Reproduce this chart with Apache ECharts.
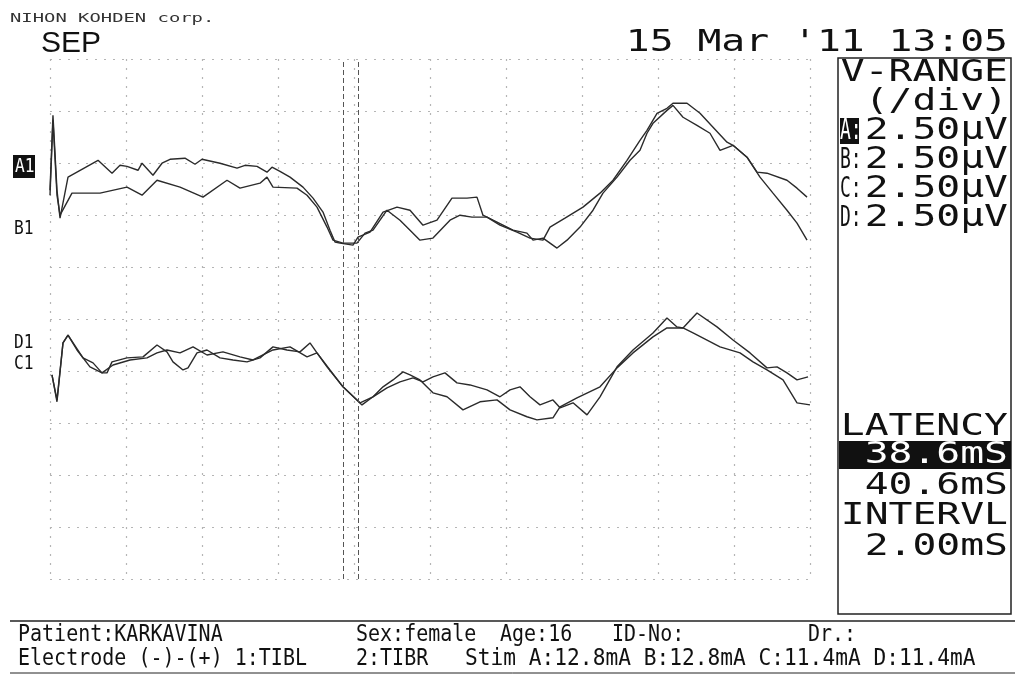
<!DOCTYPE html>
<html><head><meta charset="utf-8">
<script src="https://cdn.jsdelivr.net/npm/echarts@6/dist/echarts.min.js"></script>
<style>html,body{margin:0;padding:0;background:#fff}#c{width:1015px;height:675px}</style>
</head><body><div id="c"></div>
<script>
// time (ms) and amplitude (μV, screen offset) for each channel
const tA = [0,0.39,0.92,1.32,2.37,6.32,8.16,9.21,10.13,11.58,12.11,13.55,14.74,15.79,17.76,19.08,20.0,22.37,24.61,25.66,27.24,28.55,29.21,30.26,31.58,33.29,34.61,35.92,36.84,37.5,38.16,39.87,40.53,42.11,43.82,45.66,47.37,49.08,50.92,52.89,54.87,56.18,56.97,58.82,60.92,62.76,63.55,64.87,66.71,68.03,69.74,71.45,72.76,74.61,76.32,77.63,78.55,79.34,81.18,81.97,83.29,85.13,86.84,88.16,89.87,91.71,93.03,94.34,96.97,98.29,99.61];
const vA = [6.19,9.79,6.19,4.85,6.82,7.63,7.01,7.39,7.34,7.15,7.49,6.91,7.49,7.68,7.73,7.44,7.68,7.49,7.25,7.39,7.34,7.06,7.30,7.10,6.82,6.34,5.81,5.14,4.27,3.70,3.65,3.55,3.94,4.18,5.14,5.38,5.23,4.51,4.75,5.81,5.81,5.86,4.99,4.66,4.27,4.13,3.79,3.89,3.41,3.79,4.42,5.23,6.05,6.82,7.63,8.11,8.93,9.41,10.03,10.27,9.70,9.31,8.93,8.11,8.35,7.78,7.06,7.01,6.67,6.29,5.86];
const tB = [0,0.39,0.92,1.32,2.89,6.58,10.13,12.11,14.08,17.11,20.13,23.29,25.0,27.63,28.55,29.34,32.5,33.82,35.13,36.45,37.24,38.55,40.39,41.45,42.5,44.34,46.05,47.37,48.68,50.39,52.63,53.95,55.53,57.5,59.21,61.45,63.16,64.87,65.79,67.76,70.13,72.37,74.08,75.92,77.63,78.55,79.87,81.18,81.97,83.82,85.53,87.24,89.08,89.87,91.71,93.42,95.13,96.97,98.29,99.61];
const vB = [5.95,9.55,5.95,4.99,6.05,6.05,6.34,5.95,6.67,6.34,5.86,6.67,6.29,6.53,6.82,6.34,6.29,5.95,5.38,4.42,3.79,3.65,3.65,4.13,4.27,5.23,4.75,4.27,3.79,3.89,4.75,4.99,4.90,4.90,4.51,4.18,3.89,3.79,4.42,4.85,5.38,6.05,6.67,7.63,8.59,9.07,9.89,10.13,10.37,10.37,9.89,9.22,8.50,8.35,7.78,6.82,6.05,5.23,4.61,3.79];
const tC = [0.26,0.92,1.71,2.37,4.34,5.66,6.84,7.5,8.16,10.13,12.24,14.08,15.39,16.18,17.5,18.16,19.34,20.66,22.37,24.08,25.92,27.63,29.34,31.18,32.89,34.21,35.13,36.84,38.55,41.05,42.5,43.82,45.13,46.45,47.37,48.68,50.39,52.24,54.34,56.58,58.82,60.53,62.76,64.08,66.18,67.11,69.34,72.37,74.61,76.71,79.34,81.18,83.29,84.61,86.45,88.16,90.79,92.5,94.34,96.45,98.29,100];
const vC = [-2.69,-3.98,-1.15,-0.77,-1.87,-2.11,-2.59,-2.59,-2.06,-1.87,-1.82,-1.25,-1.58,-2.06,-2.45,-2.35,-1.63,-1.49,-1.87,-1.97,-2.06,-1.87,-1.34,-1.49,-1.58,-1.15,-1.63,-2.45,-3.26,-4.13,-3.74,-3.26,-2.93,-2.54,-2.69,-2.93,-3.55,-3.74,-4.37,-3.98,-3.89,-4.37,-4.70,-4.85,-4.75,-4.22,-3.79,-3.26,-2.35,-1.63,-0.86,-0.43,-0.43,-0.67,-1.01,-1.34,-1.63,-2.06,-2.45,-2.93,-4.03,-4.13];
const tD = [0.26,0.92,1.71,2.37,3.55,5.26,6.84,8.29,10.53,12.76,14.08,15.39,17.11,18.82,20.66,22.76,25.0,26.71,29.34,31.58,33.82,35.13,36.45,38.55,40.79,42.5,44.34,46.05,47.76,49.08,50.39,51.97,53.55,55.26,57.5,59.21,60.53,61.84,63.16,64.47,66.18,67.11,68.82,70.66,72.37,74.61,76.71,79.34,81.18,82.5,83.29,85.13,87.76,89.87,92.11,94.34,95.66,96.97,98.29,99.74];
const vD = [-2.69,-3.89,-1.15,-0.77,-1.49,-2.30,-2.59,-2.21,-1.97,-1.87,-1.63,-1.49,-1.63,-1.34,-1.73,-1.58,-1.82,-1.97,-1.49,-1.34,-1.82,-1.63,-2.30,-3.26,-4.03,-3.74,-3.31,-3.02,-2.83,-3.02,-2.78,-2.59,-3.07,-3.17,-3.41,-3.74,-3.41,-3.26,-3.74,-4.13,-3.89,-4.27,-4.03,-4.61,-3.74,-2.30,-1.49,-0.67,0.05,-0.38,-0.43,0.29,-0.38,-1.01,-1.63,-2.35,-2.30,-2.59,-2.93,-2.78];
const cursorTimes = [38.6, 40.6];
const channelNames = ['A', 'B', 'C', 'D'];
const vRange = ['2.50μV', '2.50μV', '2.50μV', '2.50μV'];
const latencies = ['38.6mS', '40.6mS'];
const intervalText = '2.00mS';

const zip = (t, v) => t.map((x, i) => [x, v[i]]);
const traceColor = '#2b2b2b';
const mkSeries = (name, t, v) => ({
  name, type: 'line', data: zip(t, v), showSymbol: false, symbol: 'none',
  lineStyle: { color: traceColor, width: 1.4 }, animation: false, silent: true
});

const mono = '"DejaVu Sans Mono", monospace';
const big = 'normal 31px ' + mono;
const panelX = 1008;
const ptxt = (text, y, fill) => ({
  type: 'text', x: panelX, y, scaleX: 1.28,
  style: { text, font: big, fill: fill || '#111', align: 'right', verticalAlign: 'middle' }
});

const graphics = [
  { type: 'text', x: 10, y: 19, scaleX: 1.45, style: { text: 'NIHON KOHDEN corp.', font: 'normal 13px ' + mono, fill: '#333', verticalAlign: 'middle' } },
  { type: 'text', x: 41, y: 44, style: { text: 'SEP', font: 'normal 30px "Liberation Sans", Arial, sans-serif', fill: '#111', verticalAlign: 'middle' } },
  ptxt("15 Mar '11 13:05", 43),
  { type: 'rect', shape: { x: 838, y: 58, width: 173, height: 556 }, style: { fill: 'none', stroke: '#222', lineWidth: 1.5 } },
  ptxt('V-RANGE', 73),
  ptxt('(/div)', 102),
  { type: 'rect', shape: { x: 840, y: 118, width: 19, height: 26 }, style: { fill: '#111' } },
];
channelNames.forEach((c, i) => {
  const y = 131 + i * 29;
  graphics.push({ type: 'text', x: 840, y, scaleX: 0.62, style: { text: c + ':', font: 'normal 29px ' + mono, fill: i === 0 ? '#fff' : '#111', verticalAlign: 'middle' } });
  graphics.push(ptxt(vRange[i], y));
});
graphics.push(
  ptxt('LATENCY', 427),
  { type: 'rect', shape: { x: 839, y: 441, width: 172, height: 28 }, style: { fill: '#111' } },
  ptxt(latencies[0], 455, '#fff'),
  ptxt(latencies[1], 486),
  ptxt('INTERVL', 516),
  ptxt(intervalText, 547)
);
// channel labels on the left
graphics.push(
  { type: 'rect', shape: { x: 13, y: 155, width: 22, height: 23 }, style: { fill: '#111' } },
  { type: 'text', x: 15, y: 167, scaleX: 0.9, scaleY: 1.1, style: { text: 'A1', font: 'normal 18px ' + mono, fill: '#fff', verticalAlign: 'middle' } },
  { type: 'text', x: 14, y: 229, scaleX: 0.9, scaleY: 1.1, style: { text: 'B1', font: 'normal 18px ' + mono, fill: '#111', verticalAlign: 'middle' } },
  { type: 'text', x: 14, y: 343, scaleX: 0.9, scaleY: 1.1, style: { text: 'D1', font: 'normal 18px ' + mono, fill: '#111', verticalAlign: 'middle' } },
  { type: 'text', x: 14, y: 364, scaleX: 0.9, scaleY: 1.1, style: { text: 'C1', font: 'normal 18px ' + mono, fill: '#111', verticalAlign: 'middle' } }
);
// footer
const foot = 'normal 20px ' + mono;
const ftxt = (text, x, y, sx) => ({ type: 'text', x, y, scaleX: sx || 1, scaleY: 1.12, style: { text, font: foot, fill: '#111', verticalAlign: 'middle' } });
graphics.push(
  { type: 'line', shape: { x1: 10, y1: 621, x2: 1015, y2: 621 }, style: { stroke: '#222', lineWidth: 1.5 } },
  { type: 'line', shape: { x1: 10, y1: 673, x2: 1015, y2: 673 }, style: { stroke: '#222', lineWidth: 1 } },
  ftxt('Patient:KARKAVINA', 18, 635),
  ftxt('Sex:female', 356, 635),
  ftxt('Age:16', 500, 635),
  ftxt('ID-No:', 612, 635),
  ftxt('Dr.:', 808, 635),
  ftxt('Electrode (-)-(+) 1:TIBL', 18, 659),
  ftxt('2:TIBR', 356, 659),
  ftxt('Stim A:12.8mA B:12.8mA C:11.4mA D:11.4mA', 465, 659, 1.06)
);

const seriesList = [
  mkSeries('A1', tA, vA),
  mkSeries('B1', tB, vB),
  mkSeries('C1', tC, vC),
  mkSeries('D1', tD, vD)
];
seriesList[0].markLine = {
  symbol: 'none', silent: true, animation: false,
  label: { show: false },
  lineStyle: { color: '#555', type: [5, 3], width: 1 },
  data: cursorTimes.map(t => ({ xAxis: t }))
};

const chart = echarts.init(document.getElementById('c'));
chart.setOption({
  backgroundColor: '#fff',
  animation: false,
  grid: { left: 50, right: 205, top: 59, bottom: 96 },
  xAxis: {
    type: 'value', min: 0, max: 100, interval: 10,
    axisLine: { show: false }, axisTick: { show: false }, axisLabel: { show: false },
    splitLine: { show: true, lineStyle: { color: '#b5b5b5', type: [2, 7], width: 1.2 } }
  },
  yAxis: {
    type: 'value', min: -12.5, max: 12.5, interval: 2.5,
    axisLine: { show: false }, axisTick: { show: false }, axisLabel: { show: false },
    splitLine: { show: true, lineStyle: { color: '#b5b5b5', type: [2, 7], width: 1.2 } }
  },
  series: seriesList,
  graphic: graphics
});
</script></body></html>
